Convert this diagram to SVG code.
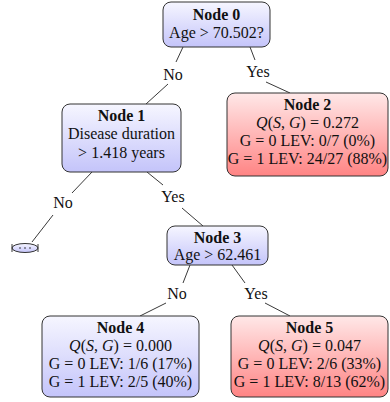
<svg xmlns="http://www.w3.org/2000/svg" width="390" height="402" viewBox="0 0 390 402">
<defs>
<linearGradient id="gb" x1="0" y1="0" x2="0" y2="1">
<stop offset="0" stop-color="#f6f6ff"/>
<stop offset="1" stop-color="#c4c4fa"/>
</linearGradient>
<linearGradient id="gr" x1="0" y1="0" x2="0" y2="1">
<stop offset="0" stop-color="#ffe8e8"/>
<stop offset="1" stop-color="#ff8484"/>
</linearGradient>
<style>
.box{stroke:#333;stroke-width:1}
.blue{fill:url(#gb)}
.red{fill:url(#gr)}
text{font-family:"Liberation Serif","Times New Roman",serif;font-size:16px;fill:#111;text-anchor:middle}
.b{font-weight:bold}
.e{stroke:#222;stroke-width:0.9;fill:none}
</style>
</defs>
<g id="edges">
<path class="e" d="M183 47 L176 62 M168 84 L146 104"/>
<path class="e" d="M250 47 L255 60 M266 82 L290 93"/>
<path class="e" d="M92 172 L72 193 M53 215 L32 242"/>
<path class="e" d="M147 172 L163 185 M182 208 L203 226"/>
<path class="e" d="M190 265 L183 283 M166 303 L140 316"/>
<path class="e" d="M232 265 L245 283 M265 303 L290 316"/>
<text x="173" y="80">No</text>
<text x="258" y="77">Yes</text>
<text x="63" y="208">No</text>
<text x="173" y="202">Yes</text>
<text x="177" y="299">No</text>
<text x="256" y="299">Yes</text>
</g>
<g id="node0">
<rect class="box blue" x="163" y="2" width="107" height="45" rx="8"/>
<text class="b" x="216.5" y="20">Node 0</text>
<text x="216.5" y="38">Age &gt; 70.502?</text>
</g>
<g id="node1">
<rect class="box blue" x="62" y="104" width="119" height="68" rx="8"/>
<text class="b" x="121.5" y="121">Node 1</text>
<text x="121.5" y="139">Disease duration</text>
<text x="121.5" y="158">&gt; 1.418 years</text>
</g>
<g id="node2">
<rect class="box red" x="227" y="93" width="161" height="83" rx="8"/>
<text class="b" x="307.5" y="110">Node 2</text>
<text x="307.5" y="128"><tspan font-style="italic">Q</tspan>(<tspan font-style="italic">S</tspan>, <tspan font-style="italic">G</tspan>) = 0.272</text>
<text x="307.5" y="146">G = 0 LEV: 0/7 (0%)</text>
<text x="307.5" y="164">G = 1 LEV: 24/27 (88%)</text>
</g>
<g id="node_more">
<ellipse cx="25" cy="248" rx="13" ry="4.5" class="box blue"/>
<line x1="12" y1="244" x2="12" y2="252" class="e"/>
<line x1="38" y1="244" x2="38" y2="252" class="e"/>
<circle cx="20" cy="248" r="0.8" fill="#222"/>
<circle cx="25" cy="248" r="0.8" fill="#222"/>
<circle cx="30" cy="248" r="0.8" fill="#222"/>
</g>
<g id="node3">
<rect class="box blue" x="167" y="226" width="101" height="39" rx="8"/>
<text class="b" x="217.5" y="243">Node 3</text>
<text x="217.5" y="260">Age &gt; 62.461</text>
</g>
<g id="node4">
<rect class="box blue" x="42" y="316" width="157" height="81" rx="8"/>
<text class="b" x="120.5" y="333">Node 4</text>
<text x="120.5" y="351"><tspan font-style="italic">Q</tspan>(<tspan font-style="italic">S</tspan>, <tspan font-style="italic">G</tspan>) = 0.000</text>
<text x="120.5" y="369">G = 0 LEV: 1/6 (17%)</text>
<text x="120.5" y="387">G = 1 LEV: 2/5 (40%)</text>
</g>
<g id="node5">
<rect class="box red" x="231" y="316" width="157" height="81" rx="8"/>
<text class="b" x="309.5" y="333">Node 5</text>
<text x="309.5" y="351"><tspan font-style="italic">Q</tspan>(<tspan font-style="italic">S</tspan>, <tspan font-style="italic">G</tspan>) = 0.047</text>
<text x="309.5" y="369">G = 0 LEV: 2/6 (33%)</text>
<text x="309.5" y="387">G = 1 LEV: 8/13 (62%)</text>
</g>
</svg>
